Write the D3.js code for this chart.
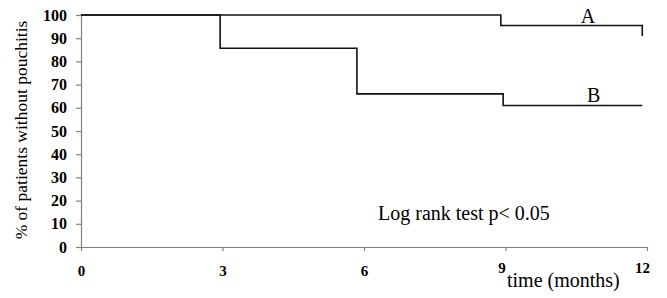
<!DOCTYPE html>
<html>
<head>
<meta charset="utf-8">
<script src="https://d3js.org/d3.v7.min.js"></script>
<style>
  body { margin: 0; background: #fff; }
  svg { display: block; }
  svg text { font-family: "Liberation Serif", "DejaVu Serif", serif; }
</style>
</head>
<body>
<div id="chartHere"></div>
<script>
// Kaplan-Meier style curves
var monthsA = [0, 8.9, 11.9];
var percentA = [100, 95.5, 91];
var monthsB = [0, 2.95, 5.85, 8.95, 11.9];
var percentB = [100, 85.7, 66, 61, 61];
var curveNames = ["A", "B"];
var xTicks = [0, 3, 6, 9, 12];
var yTicks = [0, 10, 20, 30, 40, 50, 60, 70, 80, 90, 100];

var dims = {width: 667, height: 298};
var margin = {top: 15, right: 20, bottom: 51, left: 81};

var svg = d3.select("#chartHere").append("svg")
  .attr("width", dims.width)
  .attr("height", dims.height);

var x = d3.scaleLinear().domain([0, 12]).range([margin.left, dims.width - margin.right]);
var y = d3.scaleLinear().domain([0, 100]).range([dims.height - margin.bottom, margin.top]);

var serif = "Liberation Serif, DejaVu Serif, serif";

// y axis
var yAxis = svg.append("g")
  .attr("transform", "translate(" + margin.left + ",0)")
  .call(d3.axisLeft(y).tickValues(yTicks).tickSize(5).tickSizeOuter(0).tickPadding(9));
yAxis.attr("font-family", null);
yAxis.selectAll("path, line").attr("stroke", "#808080").attr("stroke-width", 1.2);
yAxis.selectAll("text")
  .style("font-family", serif).attr("font-size", 16).attr("font-weight", "bold").attr("fill", "#000");

// x axis
var xAxis = svg.append("g")
  .attr("transform", "translate(0," + y(0) + ")")
  .call(d3.axisBottom(x).tickValues(xTicks).tickSize(4).tickSizeOuter(0));
xAxis.attr("font-family", null);
xAxis.selectAll("path, line").attr("stroke", "#808080").attr("stroke-width", 1.2);
xAxis.selectAll("text")
  .style("font-family", serif).attr("font-size", 15).attr("font-weight", "bold").attr("fill", "#000")
  .attr("dy", null)
  .attr("y", function(d) { return d >= 9 ? 26 : 29; })
  .attr("dx", function(d) { return d == 9 ? -4 : (d == 12 ? -5 : 0); });

// curves
var line = d3.line()
  .x(function(d) { return x(d[0]); })
  .y(function(d) { return y(d[1]); })
  .curve(d3.curveStepAfter);

var curves = [d3.zip(monthsA, percentA), d3.zip(monthsB, percentB)];

svg.selectAll("path.curve")
  .data(curves).enter().append("path")
  .attr("class", "curve")
  .attr("d", line)
  .attr("fill", "none")
  .attr("stroke", "#111")
  .attr("stroke-width", 1.6);

// curve labels
var labelPos = [[10.75, percentA[1] + 1], [10.87, percentB[3] + 1.7]];
svg.selectAll("text.curveName")
  .data(curveNames).enter().append("text")
  .attr("class", "curveName")
  .attr("x", function(d, i) { return x(labelPos[i][0]); })
  .attr("y", function(d, i) { return y(labelPos[i][1]); })
  .attr("text-anchor", "middle")
  .style("font-family", serif)
  .attr("font-size", 20)
  .text(function(d) { return d; });

// log rank note
svg.append("text")
  .attr("x", 378).attr("y", 220)
  .style("font-family", serif).attr("font-size", 20)
  .text("Log rank test p< 0.05");

// axis titles
svg.append("text")
  .attr("x", 507).attr("y", 287)
  .style("font-family", serif).attr("font-size", 20)
  .text("time (months)");

svg.append("text")
  .attr("transform", "translate(27," + 130 + ") rotate(-90)")
  .attr("text-anchor", "middle")
  .style("font-family", serif).attr("font-size", 17.5)
  .text("% of patients without pouchitis");
</script>
</body>
</html>
